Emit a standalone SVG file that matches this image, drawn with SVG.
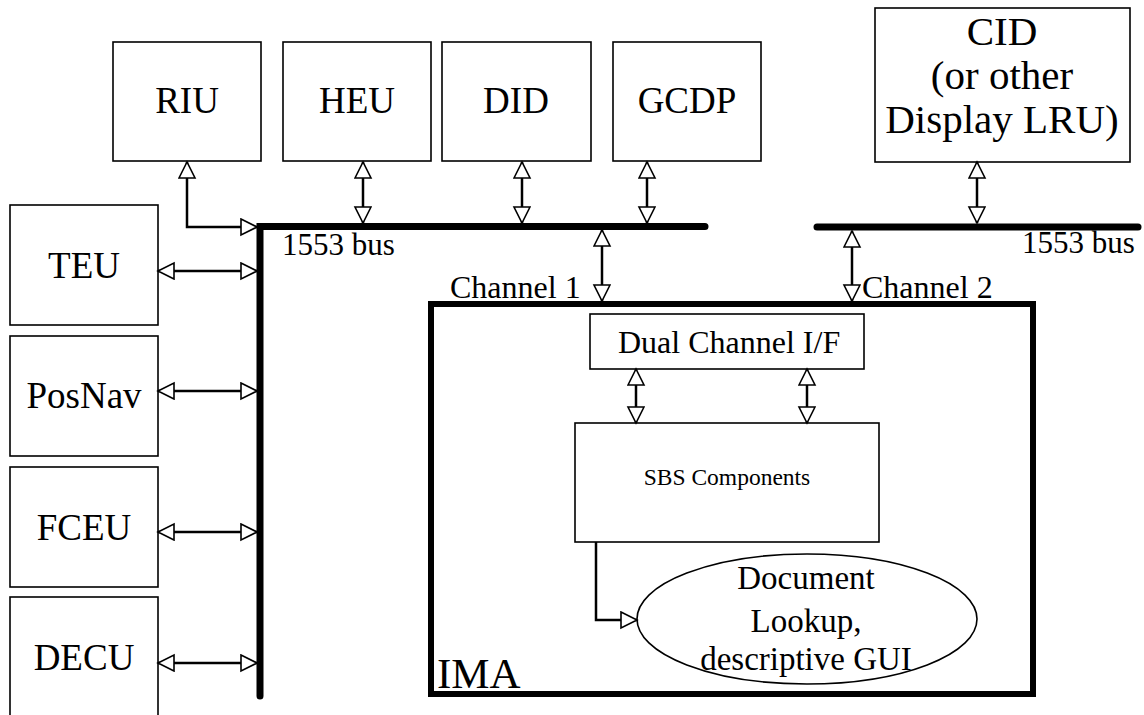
<svg xmlns="http://www.w3.org/2000/svg" width="1144" height="715" viewBox="0 0 1144 715">
<defs>
<marker id="ah" markerUnits="userSpaceOnUse" markerWidth="20" markerHeight="20" viewBox="-1 -1 20 20" refX="17" refY="8" orient="auto-start-reverse">
<path d="M1,0 L17,8 L1,16 z" fill="#fff" stroke="#000" stroke-width="1.6"/>
</marker>
</defs>
<style>
.box{fill:#fff;stroke:#000;stroke-width:1.6}
.lbl{font-family:"Liberation Serif","Times New Roman",serif;font-size:37px;fill:#000;text-anchor:middle}
.big{font-size:41px}
.sm{font-family:"Liberation Serif","Times New Roman",serif;font-size:32px;fill:#000}
.bus{fill:none;stroke:#000;stroke-width:7;stroke-linecap:round}
.con{fill:none;stroke:#000;stroke-width:2.5;marker-start:url(#ah);marker-end:url(#ah)}
.con1{fill:none;stroke:#000;stroke-width:2.5;marker-end:url(#ah)}
</style>
<rect width="1144" height="715" fill="#fff"/>
<g id="IMA">
<rect x="431" y="304" width="602" height="390" fill="#fff" stroke="#000" stroke-width="6"/>
<text x="437" y="688" font-family="Liberation Serif, serif" font-size="43">IMA</text>
</g>
<g id="RIU"><rect class="box" x="113" y="42" width="148" height="119"/><text class="lbl" x="187" y="113">RIU</text></g>
<g id="HEU"><rect class="box" x="283" y="42" width="148" height="119"/><text class="lbl" x="357" y="113">HEU</text></g>
<g id="DID"><rect class="box" x="442" y="42" width="149" height="119"/><text class="lbl" x="516" y="113">DID</text></g>
<g id="GCDP"><rect class="box" x="613" y="42" width="148" height="119"/><text class="lbl" x="687" y="113">GCDP</text></g>
<g id="CID"><rect class="box" x="875" y="8" width="255" height="154"/>
<text class="lbl big" x="1002" y="45">CID</text>
<text class="lbl big" x="1002" y="89">(or other</text>
<text class="lbl big" x="1002" y="133">Display LRU)</text></g>
<g id="TEU"><rect class="box" x="10" y="205" width="148" height="120"/><text class="lbl" x="84" y="278">TEU</text></g>
<g id="PosNav"><rect class="box" x="10" y="336" width="148" height="120"/><text class="lbl" x="84" y="408">PosNav</text></g>
<g id="FCEU"><rect class="box" x="10" y="467" width="148" height="120"/><text class="lbl" x="84" y="540">FCEU</text></g>
<g id="DECU"><rect class="box" x="10" y="597" width="148" height="122"/><text class="lbl" x="84" y="670">DECU</text></g>
<g id="DualChannel"><rect class="box" x="590" y="314" width="274" height="55"/><text class="sm" x="618" y="353">Dual Channel I/F</text></g>
<g id="SBS"><rect class="box" x="575" y="423" width="304" height="119"/><text x="727" y="485" font-family="Liberation Serif, serif" font-size="23.5" text-anchor="middle">SBS Components</text></g>
<g id="Document"><ellipse cx="807" cy="619" rx="170" ry="65" fill="#fff" stroke="#000" stroke-width="1.6"/>
<text class="lbl" style="font-size:33px" x="806" y="589">Document</text>
<text class="lbl" style="font-size:33px" x="806" y="632">Lookup,</text>
<text class="lbl" style="font-size:33px" x="806" y="670">descriptive GUI</text></g>
<g id="buses">
<path class="bus" d="M260,696 V226.5 H705"/>
<path class="bus" d="M817,227 H1138"/>
<text class="sm" x="282" y="255" style="font-size:31px">1553 bus</text>
<text class="sm" x="1022" y="253" style="font-size:31px">1553 bus</text>
<text class="sm" x="450" y="298">Channel 1</text>
<text class="sm" x="862" y="298">Channel 2</text>
</g>
<g id="connectors">
<path class="con" d="M187,162 V227 H257"/>
<path class="con" d="M363,162 V223"/>
<path class="con" d="M522,162 V223"/>
<path class="con" d="M647,162 V223"/>
<path class="con" d="M977,162 V223"/>
<path class="con" d="M602,230 V301"/>
<path class="con" d="M852,231 V301"/>
<path class="con" d="M158,271 H257"/>
<path class="con" d="M158,391 H257"/>
<path class="con" d="M158,532 H257"/>
<path class="con" d="M158,663 H257"/>
<path class="con" d="M636,369 V423"/>
<path class="con" d="M807,369 V423"/>
<path class="con1" d="M596,542 V620 H637"/>
</g>
</svg>
